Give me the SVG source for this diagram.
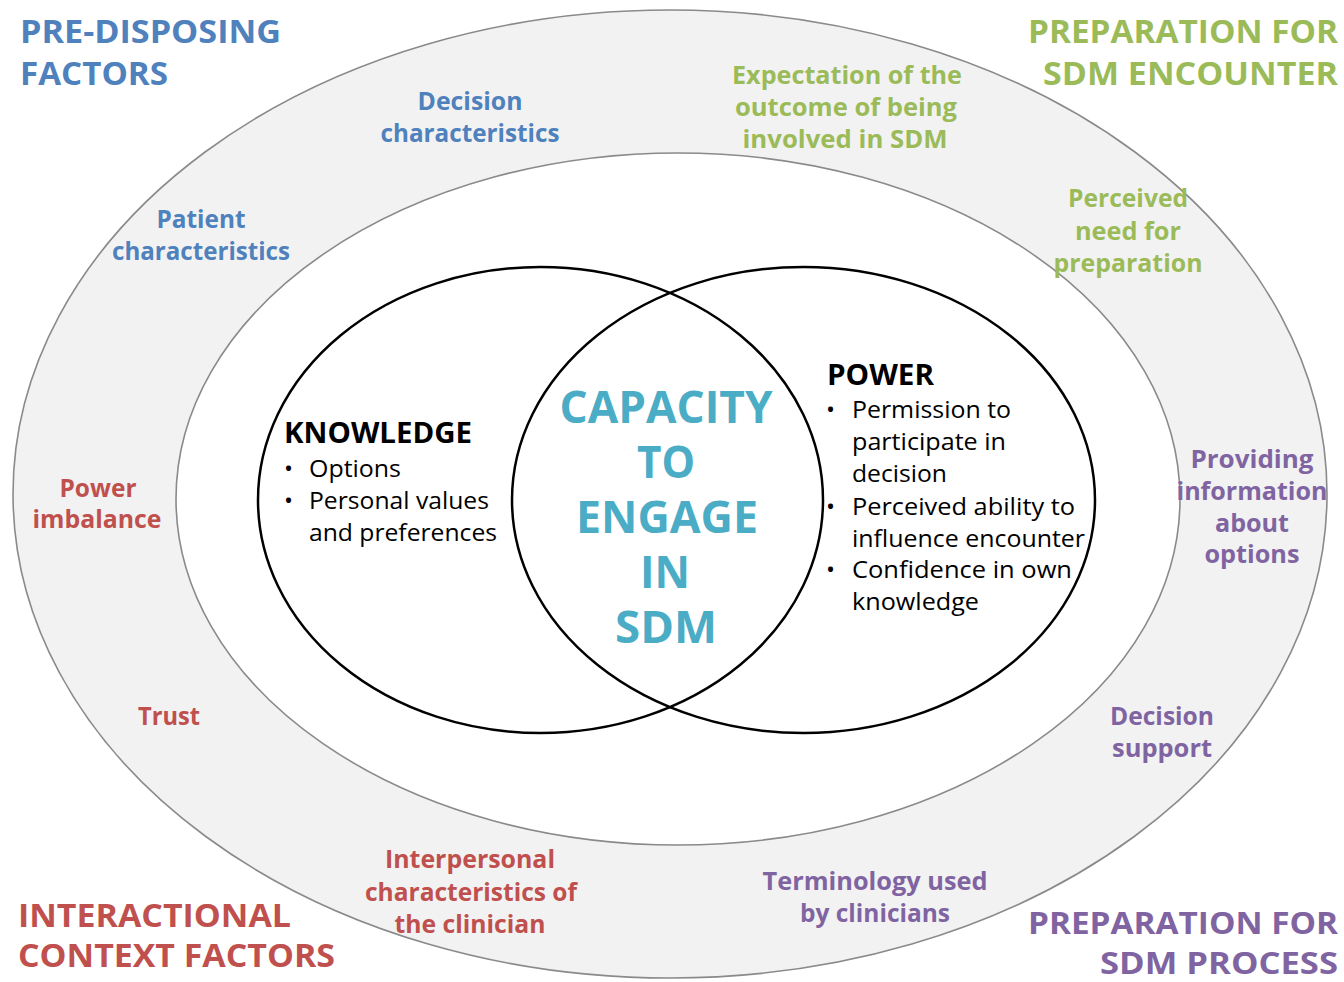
<svg xmlns="http://www.w3.org/2000/svg" width="1344" height="982" viewBox="0 0 1344 982">
  <style>
    .ring { fill: #f2f2f2; stroke: #8a8a8a; stroke-width: 1.6; }
    .core { fill: #ffffff; stroke: #8a8a8a; stroke-width: 1.6; }
    .venn { fill: none; stroke: #000000; stroke-width: 2.5; }
    text { font-family: "Open Sans", "Noto Sans", "DejaVu Sans", sans-serif; }
    .head { font-size: 32px; font-weight: 700; }
    .head-low { font-size: 30px; font-weight: 700; }
    .lab { font-size: 25px; font-weight: 700; text-anchor: middle; }
    .blue { fill: #4f81bd; }
    .green { fill: #9bbb59; }
    .red { fill: #c0504d; }
    .purple { fill: #8064a2; }
    .title { font-size: 28px; font-weight: 700; fill: #000000; }
    .item { font-size: 24px; font-weight: 400; fill: #000000; }
    .center { font-size: 44px; font-weight: 700; fill: #4bacc6; text-anchor: middle; }
  </style>

  <!-- background rings -->
  <g id="outer-ring">
    <ellipse class="ring" cx="670" cy="494" rx="657" ry="484"/>
  </g>
  <g id="inner-field">
    <ellipse class="core" cx="678" cy="499" rx="502" ry="346"/>
  </g>

  <!-- corner headings -->
  <g id="predisposing-heading" class="blue">
    <text class="head" x="20" y="43" textLength="261" lengthAdjust="spacingAndGlyphs">PRE-DISPOSING</text>
    <text class="head" x="20" y="85" textLength="148" lengthAdjust="spacingAndGlyphs">FACTORS</text>
  </g>
  <g id="encounter-heading" class="green">
    <text class="head" x="1028" y="43" textLength="310" lengthAdjust="spacingAndGlyphs">PREPARATION FOR</text>
    <text class="head" x="1043" y="85" textLength="295" lengthAdjust="spacingAndGlyphs">SDM ENCOUNTER</text>
  </g>
  <g id="interactional-heading" class="red">
    <text class="head" x="18" y="927" textLength="273" lengthAdjust="spacingAndGlyphs">INTERACTIONAL</text>
    <text class="head" x="18" y="967" textLength="317" lengthAdjust="spacingAndGlyphs">CONTEXT FACTORS</text>
  </g>
  <g id="process-heading" class="purple">
    <text class="head-low" x="1028" y="934" textLength="310" lengthAdjust="spacingAndGlyphs">PREPARATION FOR</text>
    <text class="head-low" x="1100" y="974" textLength="238" lengthAdjust="spacingAndGlyphs">SDM PROCESS</text>
  </g>

  <!-- factors placed in the ring -->
  <g id="decision-characteristics" class="blue">
    <text class="lab" x="470" y="110" textLength="105" lengthAdjust="spacingAndGlyphs">Decision</text>
    <text class="lab" x="470" y="142" textLength="179" lengthAdjust="spacingAndGlyphs">characteristics</text>
  </g>
  <g id="patient-characteristics" class="blue">
    <text class="lab" x="201" y="228" textLength="89" lengthAdjust="spacingAndGlyphs">Patient</text>
    <text class="lab" x="201" y="260" textLength="178" lengthAdjust="spacingAndGlyphs">characteristics</text>
  </g>
  <g id="expectation" class="green">
    <text class="lab" x="847" y="84" textLength="230" lengthAdjust="spacingAndGlyphs">Expectation of the</text>
    <text class="lab" x="846" y="116" textLength="222" lengthAdjust="spacingAndGlyphs">outcome of being</text>
    <text class="lab" x="845" y="148" textLength="205" lengthAdjust="spacingAndGlyphs">involved in SDM</text>
  </g>
  <g id="perceived-need" class="green">
    <text class="lab" x="1128" y="207" textLength="120" lengthAdjust="spacingAndGlyphs">Perceived</text>
    <text class="lab" x="1128" y="240" textLength="106" lengthAdjust="spacingAndGlyphs">need for</text>
    <text class="lab" x="1128" y="272" textLength="149" lengthAdjust="spacingAndGlyphs">preparation</text>
  </g>
  <g id="power-imbalance" class="red">
    <text class="lab" x="98" y="497" textLength="77" lengthAdjust="spacingAndGlyphs">Power</text>
    <text class="lab" x="97" y="528" textLength="129" lengthAdjust="spacingAndGlyphs">imbalance</text>
  </g>
  <g id="trust" class="red">
    <text class="lab" x="169" y="725" textLength="62" lengthAdjust="spacingAndGlyphs">Trust</text>
  </g>
  <g id="interpersonal" class="red">
    <text class="lab" x="470" y="868" textLength="170" lengthAdjust="spacingAndGlyphs">Interpersonal</text>
    <text class="lab" x="471" y="901" textLength="212" lengthAdjust="spacingAndGlyphs">characteristics of</text>
    <text class="lab" x="470" y="933" textLength="151" lengthAdjust="spacingAndGlyphs">the clinician</text>
  </g>
  <g id="providing-information" class="purple">
    <text class="lab" x="1252" y="468" textLength="123" lengthAdjust="spacingAndGlyphs">Providing</text>
    <text class="lab" x="1252" y="500" textLength="151" lengthAdjust="spacingAndGlyphs">information</text>
    <text class="lab" x="1252" y="532" textLength="74" lengthAdjust="spacingAndGlyphs">about</text>
    <text class="lab" x="1252" y="563" textLength="95" lengthAdjust="spacingAndGlyphs">options</text>
  </g>
  <g id="decision-support" class="purple">
    <text class="lab" x="1162" y="725" textLength="104" lengthAdjust="spacingAndGlyphs">Decision</text>
    <text class="lab" x="1162" y="757" textLength="100" lengthAdjust="spacingAndGlyphs">support</text>
  </g>
  <g id="terminology" class="purple">
    <text class="lab" x="875" y="890" textLength="225" lengthAdjust="spacingAndGlyphs">Terminology used</text>
    <text class="lab" x="875" y="922" textLength="150" lengthAdjust="spacingAndGlyphs">by clinicians</text>
  </g>

  <!-- overlapping circles -->
  <g id="knowledge-circle">
    <ellipse class="venn" cx="540.5" cy="500" rx="282.5" ry="233"/>
  </g>
  <g id="power-circle">
    <ellipse class="venn" cx="803.5" cy="500" rx="291.5" ry="233"/>
  </g>

  <g id="knowledge-text">
    <text class="title" x="284" y="443" textLength="188" lengthAdjust="spacingAndGlyphs">KNOWLEDGE</text>
    <text class="item" x="284" y="477">•</text>
    <text class="item" x="309" y="477" textLength="92" lengthAdjust="spacingAndGlyphs">Options</text>
    <text class="item" x="284" y="509">•</text>
    <text class="item" x="309" y="509" textLength="180" lengthAdjust="spacingAndGlyphs">Personal values</text>
    <text class="item" x="309" y="541" textLength="188" lengthAdjust="spacingAndGlyphs">and preferences</text>
  </g>

  <g id="power-text">
    <text class="title" x="827" y="385" textLength="107" lengthAdjust="spacingAndGlyphs">POWER</text>
    <text class="item" x="826" y="418">•</text>
    <text class="item" x="852" y="418" textLength="159" lengthAdjust="spacingAndGlyphs">Permission to</text>
    <text class="item" x="852" y="450" textLength="154" lengthAdjust="spacingAndGlyphs">participate in</text>
    <text class="item" x="852" y="482" textLength="95" lengthAdjust="spacingAndGlyphs">decision</text>
    <text class="item" x="826" y="515">•</text>
    <text class="item" x="852" y="515" textLength="223" lengthAdjust="spacingAndGlyphs">Perceived ability to</text>
    <text class="item" x="852" y="547" textLength="233" lengthAdjust="spacingAndGlyphs">influence encounter</text>
    <text class="item" x="826" y="578">•</text>
    <text class="item" x="852" y="578" textLength="220" lengthAdjust="spacingAndGlyphs">Confidence in own</text>
    <text class="item" x="852" y="610" textLength="127" lengthAdjust="spacingAndGlyphs">knowledge</text>
  </g>

  <g id="capacity">
    <text class="center" x="666" y="423" textLength="213" lengthAdjust="spacingAndGlyphs">CAPACITY</text>
    <text class="center" x="666" y="478" textLength="58" lengthAdjust="spacingAndGlyphs">TO</text>
    <text class="center" x="667" y="533" textLength="182" lengthAdjust="spacingAndGlyphs">ENGAGE</text>
    <text class="center" x="665" y="588" textLength="50" lengthAdjust="spacingAndGlyphs">IN</text>
    <text class="center" x="666" y="643" textLength="102" lengthAdjust="spacingAndGlyphs">SDM</text>
  </g>
</svg>
